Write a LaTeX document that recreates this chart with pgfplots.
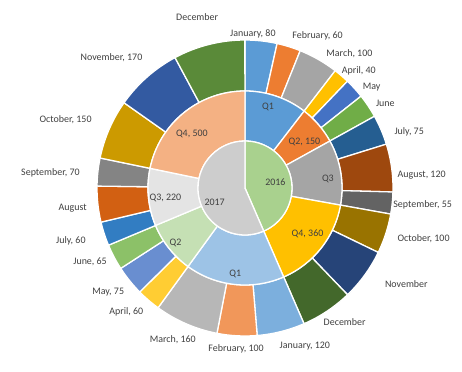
\documentclass[border=0pt]{standalone}
\usepackage{pgfplots}
\usepackage{pgfplotstable}
\pgfplotsset{compat=1.18}
\usepackage{fontspec}
\setmainfont{Carlito}

\definecolor{y16}{HTML}{A9D18E}
\definecolor{y17}{HTML}{CDCDCD}
\definecolor{qa1}{HTML}{5B9BD5}\definecolor{qa2}{HTML}{ED7D31}\definecolor{qa3}{HTML}{A5A5A5}\definecolor{qa4}{HTML}{FFC000}
\definecolor{qb1}{HTML}{9DC3E6}\definecolor{qb2}{HTML}{C5E0B4}\definecolor{qb3}{HTML}{E4E4E4}\definecolor{qb4}{HTML}{F4B183}
\definecolor{ma1}{HTML}{5B9BD5}\definecolor{ma2}{HTML}{ED7D31}\definecolor{ma3}{HTML}{A5A5A5}
\definecolor{ma4}{HTML}{FFC000}\definecolor{ma5}{HTML}{4472C4}\definecolor{ma6}{HTML}{70AD47}
\definecolor{ma7}{HTML}{255E91}\definecolor{ma8}{HTML}{9E480E}\definecolor{ma9}{HTML}{636363}
\definecolor{ma10}{HTML}{997300}\definecolor{ma11}{HTML}{264478}\definecolor{ma12}{HTML}{43682B}
\definecolor{mb1}{HTML}{7CAFDD}\definecolor{mb2}{HTML}{F1975A}\definecolor{mb3}{HTML}{B7B7B7}
\definecolor{mb4}{HTML}{FFCD33}\definecolor{mb5}{HTML}{698ED0}\definecolor{mb6}{HTML}{8CC168}
\definecolor{mb7}{HTML}{327DC2}\definecolor{mb8}{HTML}{D26012}\definecolor{mb9}{HTML}{848484}
\definecolor{mb10}{HTML}{CC9A00}\definecolor{mb11}{HTML}{335AA1}\definecolor{mb12}{HTML}{5A8A39}
\definecolor{txt}{HTML}{404040}

% dx, dy: small label offsets (bp)
\pgfplotstableread[col sep=semicolon]{
name;value;show;color;dx;dy
2016;1000;0;y16;0;0
2017;1300;0;y17;0;-8
}\yeartab

\pgfplotstableread[col sep=semicolon]{
name;value;show;color;dx;dy
Q1;240;0;qa1;-3;4
Q2;150;1;qa2;-2;-7
Q3;250;0;qa3;3;-4
Q4;360;1;qa4;-1;4
Q1;380;0;qb1;-1;-5
Q2;200;0;qb2;-6;-5
Q3;220;1;qb3;1;-2
Q4;500;1;qb4;-2;-9
}\quartertab

\pgfplotstableread[col sep=semicolon]{
name;value;show;color;dx;dy
January;80;1;ma1;-10;-8
February;60;1;ma2;24;-4
March;100;1;ma3;23;-8
April;40;1;ma4;6;-8
May;50;0;ma5;4;-11
June;60;0;ma6;2;-7
July;75;1;ma7;6;-11
August;120;1;ma8;-5;-12
September;55;1;ma9;-10;2
October;100;1;ma10;12;3
November;130;0;ma11;27;1
December;130;0;ma12;9;2
January;120;1;mb1;20;0
February;100;1;mb2;0;2
March;160;1;mb3;-7;-1
April;60;1;mb4;-11;1
May;75;1;mb5;-7;0
June;65;1;mb6;-5;5
July;60;1;mb7;-8;1
August;90;0;mb8;0;-1
September;70;1;mb9;-7;-5
October;150;1;mb10;-22;0
November;170;1;mb11;-24;7
December;180;0;mb12;-8;13
}\monthtab

\def\total{2300}
% #1 table, #2 inner radius, #3 outer radius, #4 label radius, #5 outside labels (1) or inside (0)
\newcommand\drawring[5]{%
  \pgfplotstablegetrowsof{#1}\pgfmathtruncatemacro\nrows{\pgfplotsretval-1}%
  \xdef\curang{90}%
  \foreach \i in {0,...,\nrows}{%
    \pgfplotstablegetelem{\i}{value}\of{#1}\let\val\pgfplotsretval
    \pgfplotstablegetelem{\i}{name}\of{#1}\let\nm\pgfplotsretval
    \pgfplotstablegetelem{\i}{show}\of{#1}\let\shw\pgfplotsretval
    \pgfplotstablegetelem{\i}{color}\of{#1}\let\col\pgfplotsretval
    \pgfplotstablegetelem{\i}{dx}\of{#1}\let\ddx\pgfplotsretval
    \pgfplotstablegetelem{\i}{dy}\of{#1}\let\ddy\pgfplotsretval
    \pgfmathsetmacro\aS{\curang}%
    \pgfmathsetmacro\aE{\curang-\val/\total*360}%
    \pgfmathsetmacro\aM{(\aS+\aE)/2}%
    \pgfmathsetmacro\aA{\aM+180}%
    \fill[fill=\col, draw=white, line width=1.3pt]
      (axis cs:{#2*cos(\aS)},{#2*sin(\aS)}) arc[start angle=\aS, end angle=\aE, radius=#2 bp]
      -- (axis cs:{#3*cos(\aE)},{#3*sin(\aE)}) arc[start angle=\aE, end angle=\aS, radius=#3 bp] -- cycle;
    \ifnum\shw=1 \edef\lbl{\nm, \val}\else \edef\lbl{\nm}\fi
    \ifnum#5=1
      \node[anchor=\aA, text=txt, inner sep=1pt] at (axis cs:{#4*cos(\aM)+\ddx},{#4*sin(\aM)+\ddy}) {\lbl};
    \else
      \node[text=txt, inner sep=1pt] at (axis cs:{#4*cos(\aM)+\ddx},{#4*sin(\aM)+\ddy}) {\lbl};
    \fi
    \xdef\curang{\aE}%
  }%
}

\begin{document}
\begin{tikzpicture}
\begin{axis}[
  x=1bp, y=1bp,
  xmin=-245, xmax=217, ymin=-183, ymax=188,
  hide axis, clip=false,
  font=\fontsize{10}{12}\selectfont,
]
\pgfplotsextra{%
  \drawring{\monthtab}{97}{148}{158}{1}%
  \drawring{\quartertab}{47}{97}{81}{0}%
  \drawring{\yeartab}{0.1}{47}{31}{0}%
}
\end{axis}
\pgfresetboundingbox
\useasboundingbox (current axis.south west) rectangle (current axis.north east);
\end{tikzpicture}
\end{document}
